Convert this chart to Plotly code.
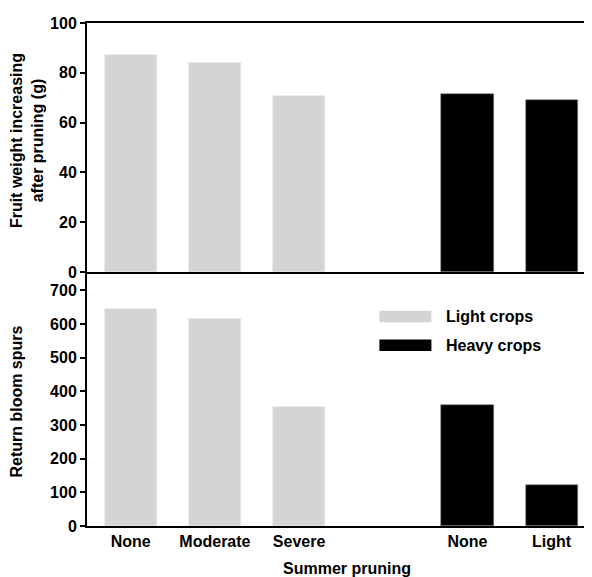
import plotly.graph_objects as go
from plotly.subplots import make_subplots

# Categories (a blank slot separates the two crop groups)
categories = ["None", "Moderate", "Severe", " ", "None ", "Light"]
tick_labels = ["None", "Moderate", "Severe", "", "None", "Light"]

light_x = ["None", "Moderate", "Severe"]
heavy_x = ["None ", "Light"]

# Fruit weight increasing after pruning (g)
light_fruit = [87.0, 83.9, 70.8]
heavy_fruit = [71.5, 69.1]

# Return bloom spurs
light_spurs = [645, 614, 355]
heavy_spurs = [361, 123]

series_names = ["Light crops", "Heavy crops"]
colors = ["#d4d4d4", "#000000"]

fig = make_subplots(rows=2, cols=1, shared_xaxes=False, vertical_spacing=0,
                    row_heights=[0.495, 0.505])

bw = 0.62
fig.add_trace(go.Bar(x=light_x, y=light_fruit, name=series_names[0], marker_color=colors[0],
                     marker_line=dict(width=0.6, color="#e4e4e4"), width=bw, showlegend=False), row=1, col=1)
fig.add_trace(go.Bar(x=heavy_x, y=heavy_fruit, name=series_names[1], marker_color=colors[1],
                     marker_line=dict(width=0.6, color="#888888"), width=bw, showlegend=False), row=1, col=1)
fig.add_trace(go.Bar(x=light_x, y=light_spurs, name=series_names[0], marker_color=colors[0],
                     marker_line=dict(width=0.6, color="#e4e4e4"), width=bw, showlegend=False), row=2, col=1)
fig.add_trace(go.Bar(x=heavy_x, y=heavy_spurs, name=series_names[1], marker_color=colors[1],
                     marker_line=dict(width=0.6, color="#888888"), width=bw, showlegend=False), row=2, col=1)

font = dict(family="Liberation Sans, Arial, sans-serif", size=16, color="#000000")
bold = lambda s: "<b>" + s + "</b>"

xcommon = dict(type="category", categoryorder="array", categoryarray=categories,
               range=[-0.52, 5.48], showline=True, linecolor="black", linewidth=2,
               showgrid=False, zeroline=False, ticks="", tickfont=font, automargin=False)
fig.update_xaxes(**xcommon, mirror=True, showticklabels=False, row=1, col=1)
fig.update_xaxes(**xcommon, tickvals=categories, ticktext=[bold(t) for t in tick_labels],
                 row=2, col=1)

ycommon = dict(showline=True, linecolor="black", linewidth=2, showgrid=False, zeroline=False,
               ticks="outside", ticklen=5, tickwidth=2, tickcolor="black", tickfont=font,
               automargin=False)
fig.update_yaxes(**ycommon, range=[0, 100], tickvals=[0, 20, 40, 60, 80, 100],
                 ticktext=[bold(str(v)) for v in [0, 20, 40, 60, 80, 100]], row=1, col=1)
fig.update_yaxes(**ycommon, range=[0, 755], tickvals=[0, 100, 200, 300, 400, 500, 600, 700],
                 ticktext=[bold(str(v)) for v in [0, 100, 200, 300, 400, 500, 600, 700]],
                 row=2, col=1)

# Axis titles
fig.add_annotation(xref="paper", yref="paper", x=-0.119, y=0.767,
                   text=bold("Fruit weight increasing<br>after pruning (g)"), textangle=-90,
                   showarrow=False, xanchor="center", yanchor="middle", font=font)
fig.add_annotation(xref="paper", yref="paper", x=-0.139, y=0.247,
                   text=bold("Return bloom spurs"), textangle=-90,
                   showarrow=False, xanchor="center", yanchor="middle", font=font)
fig.add_annotation(xref="paper", yref="paper", x=0.514, y=-0.0835,
                   text=bold("Summer pruning"),
                   showarrow=False, xanchor="center", yanchor="middle", font=font)

# Legend drawn manually (wide swatches as in the reference)
leg_items = [(series_names[0], colors[0], 0.428, 0.405), (series_names[1], colors[1], 0.371, 0.348)]
for name, col, y1, y0 in leg_items:
    fig.add_shape(type="rect", xref="paper", yref="paper", x0=0.579, x1=0.682, y0=y0, y1=y1,
                  fillcolor=col, line=dict(width=0))
    fig.add_annotation(xref="paper", yref="paper", x=0.707, y=(y0 + y1) / 2, text=bold(name),
                       showarrow=False, xanchor="left", yanchor="middle", font=font)

# page body adds an 8px offset, so the figure is sized to end at the window edges
fig.update_layout(width=584, height=569, margin=dict(l=79, r=0, t=15, b=51, autoexpand=False),
                  plot_bgcolor="white", paper_bgcolor="white", barmode="overlay",
                  font=font, bargap=0)

fig.write_html("out.html")
